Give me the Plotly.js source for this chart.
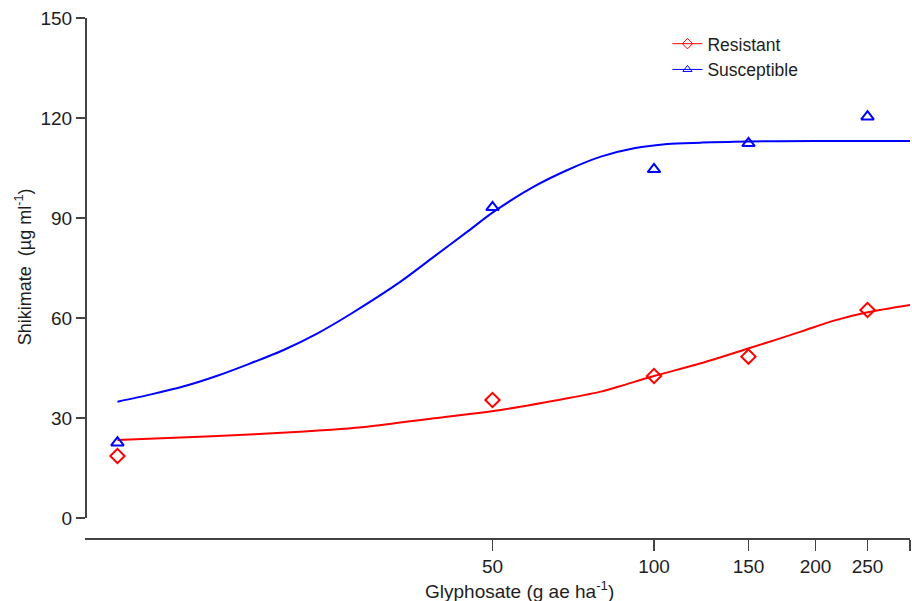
<!DOCTYPE html>
<html>
<head>
<meta charset="utf-8">
<script src="https://cdn.plot.ly/plotly-3.0.1.min.js"></script>
<style>html,body{margin:0;padding:0;background:#fff;}#chart{width:912px;height:601px;}</style>
</head>
<body>
<div id="chart"></div>
<script>
// Observed doses (0 dose shown at 10 on the log axis)
const doses = [10, 50, 100, 150, 250];
const resistantObs = [18.6, 35.4, 42.6, 48.4, 62.4];
const susceptibleObs = [22.6, 93.2, 104.6, 112.4, 120.4];

// Fitted curves
const resistantCurveX = [10, 15, 21.9, 29.2, 38.9, 51.8, 69.0, 79.6, 86.7, 100, 122.2, 150.3, 187.8, 216.5, 250, 300];
const resistantCurveY = [23.4, 24.5, 25.9, 27.4, 29.9, 32.4, 35.9, 37.9, 39.6, 42.6, 46.4, 50.9, 55.9, 59.2, 61.7, 63.9];
const susceptibleCurveX = [10, 11.5, 13.3, 15.3, 17.7, 20.4, 23.6, 27.2, 33.7, 38.9, 44.9, 50.3, 59.7, 69.0, 79.6, 91.8, 105.9, 122.2, 140.8, 200, 300];
const susceptibleCurveY = [34.9, 37.0, 39.5, 42.6, 46.4, 50.4, 55.4, 61.2, 70.9, 78.4, 85.9, 91.9, 99.4, 104.4, 108.4, 110.9, 112.2, 112.6, 112.9, 113.1, 113.1];

const xTickVals = [50, 100, 150, 200, 250];
const xTickText = ["50", "100", "150", "200", "250"];
const xEndTick = [300];
const yTickVals = [0, 30, 60, 90, 120, 150];

const RED = '#ff0000', BLUE = '#0000ff';
const FONT = 'Liberation Sans, Arial, sans-serif';
const TXT = '#1e1e1e';

const traces = [
  {x: resistantCurveX, y: resistantCurveY, mode: 'lines', line: {color: RED, width: 2, shape: 'spline', smoothing: 0.8}, showlegend: false, hoverinfo: 'skip'},
  {x: susceptibleCurveX, y: susceptibleCurveY, mode: 'lines', line: {color: BLUE, width: 2, shape: 'spline', smoothing: 0.8}, showlegend: false, hoverinfo: 'skip'},
  {x: doses, y: resistantObs, mode: 'markers', marker: {symbol: 'diamond-open', size: 11, color: RED, line: {width: 2, color: RED}}, showlegend: false, cliponaxis: false},
  {x: doses, y: susceptibleObs, mode: 'markers', marker: {symbol: 'triangle-up-open', size: 11, color: BLUE, line: {width: 2, color: BLUE}}, showlegend: false, cliponaxis: false},
  {x: [null], y: [null], name: 'Resistant', mode: 'lines+markers', line: {color: RED, width: 1}, marker: {symbol: 'diamond-open', size: 8, color: RED, line: {width: 1, color: RED}}},
  {x: [null], y: [null], name: 'Susceptible', mode: 'lines+markers', line: {color: BLUE, width: 1}, marker: {symbol: 'triangle-up-open', size: 8, color: BLUE, line: {width: 1, color: BLUE}}}
];

const layout = {
  width: 912, height: 601,
  margin: {l: 85, r: 2, t: 18, b: 63},
  paper_bgcolor: '#fff', plot_bgcolor: '#fff',
  font: {family: FONT, size: 18, color: TXT},
  showlegend: true,
  legend: {x: 0.706, y: 0.985, xanchor: 'left', yanchor: 'top', font: {family: FONT, size: 17.5, color: TXT}, bgcolor: 'rgba(0,0,0,0)', itemwidth: 30, tracegroupgap: 0},
  xaxis: {
    type: 'log', range: [Math.log10(8.7), Math.log10(300)],
    anchor: 'free', position: 0,
    showline: true, linecolor: '#444', linewidth: 1.5,
    ticks: 'outside', ticklen: 11, tickwidth: 1.2, tickcolor: '#444',
    tickmode: 'array', tickvals: xTickVals, ticktext: xTickText,
    minor: {tickmode: 'array', tickvals: xEndTick, ticks: 'outside', ticklen: 11, tickwidth: 1.2, tickcolor: '#444', showgrid: false},
    tickfont: {family: FONT, size: 19, color: TXT},
    showgrid: false, zeroline: false
  },
  yaxis: {
    domain: [0.0385, 1], range: [0, 150],
    anchor: 'free', position: 0,
    showline: true, linecolor: '#444', linewidth: 1.5,
    ticks: 'outside', ticklen: 9, tickwidth: 1.2, tickcolor: '#444',
    tickvals: yTickVals,
    tickfont: {family: FONT, size: 19, color: TXT},
    showgrid: false, zeroline: false
  },
  annotations: [
    {text: 'Glyphosate (g ae ha<sup>-1</sup>)', xref: 'paper', yref: 'paper', x: 0.527, y: -0.1, xanchor: 'center', yanchor: 'middle', showarrow: false, font: {family: FONT, size: 19, color: TXT}},
    {text: 'Shikimate  (µg ml<sup>-1</sup>)', xref: 'paper', yref: 'paper', x: -0.075, y: 0.521, xanchor: 'center', yanchor: 'middle', textangle: -90, showarrow: false, font: {family: FONT, size: 18, color: TXT}}
  ]
};

Plotly.newPlot('chart', traces, layout, {displayModeBar: false, staticPlot: true});
</script>
</body>
</html>
